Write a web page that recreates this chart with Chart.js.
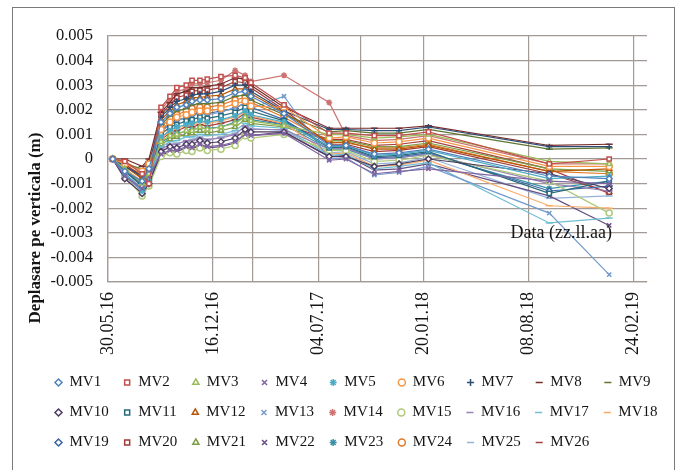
<!DOCTYPE html>
<html>
<head>
<meta charset="utf-8">
<script src="https://cdn.jsdelivr.net/npm/chart.js@4.4.1/dist/chart.umd.min.js"></script>
<style>
  html, body { margin: 0; padding: 0; background: #fff; }
  #wrap { position: relative; width: 680px; height: 470px; overflow: hidden; }
  #frame { position: absolute; left: 12px; top: 7px; width: 661px; height: 490px; border: 1.5px solid #7a7a7a; pointer-events: none; }
</style>
</head>
<body>
<div id="wrap">
  <canvas id="chart" width="680" height="470"></canvas>
  <div id="frame"></div>
</div>
<script>
// measurement dates (x) and vertical displacement per benchmark, in m
const measureDates = [
  "2016-06-08", "2016-07-01", "2016-08-03", "2016-08-16", "2016-09-08", "2016-09-25",
  "2016-10-08", "2016-10-26", "2016-11-06", "2016-11-21", "2016-12-05", "2016-12-31",
  "2017-01-27", "2017-02-15", "2017-02-26", "2017-04-30", "2017-07-25", "2017-08-26",
  "2017-10-19", "2017-12-05", "2018-01-30", "2018-09-17", "2019-01-09",
];

const MV1 = [0, -0.0005, -0.0009, -0.0004, 0.0015, 0.00185, 0.0021, 0.0022, 0.00235, 0.0024, 0.0024, 0.00245, 0.0027, 0.00275, 0.00255, 0.00185, 0.00055, 0.00055, 0.0002, 0.00025, 0.0004, -0.0007, -0.0008];
const MV2 = [0, -0.0001, -0.0006, -0.001, 0.0021, 0.00255, 0.0029, 0.003, 0.0032, 0.0032, 0.00325, 0.00335, 0.0034, 0.0033, 0.0031, 0.0022, 0.00105, 0.00105, 0.00095, 0.00095, 0.0011, -0.0002, 0];
const MV3 = [0, -0.0004, -0.001, -0.0006, 0.0007, 0.00095, 0.001, 0.00115, 0.00115, 0.0013, 0.0012, 0.0013, 0.00145, 0.0017, 0.00155, 0.00135, 0.001, 0.001, 0.00085, 0.0009, 0.001, -0.0001, -0.0002];
const MV4 = [0, -0.0007, -0.0012, -0.0007, 0.0002, 0.00035, 0.00035, 0.0005, 0.00045, 0.0006, 0.0005, 0.00055, 0.0007, 0.001, 0.00095, 0.00105, -0.00005, 0, -0.0006, -0.0005, -0.0004, -0.0009, -0.001];
const MV5 = [0, -0.0006, -0.0013, -0.0009, 0.0009, 0.00115, 0.0013, 0.0014, 0.00145, 0.00155, 0.0015, 0.0016, 0.00175, 0.00195, 0.0018, 0.0015, 0.0005, 0.00055, 0.00015, 0.0002, 0.00035, -0.0008, -0.0007];
const MV6 = [0, -0.0002, -0.0005, -0.0002, 0.0012, 0.0015, 0.0017, 0.0018, 0.0019, 0.00195, 0.00195, 0.00205, 0.00225, 0.00235, 0.00215, 0.0021, 0.00085, 0.0009, 0.00065, 0.0007, 0.00085, -0.0003, -0.0003];
const MV7 = [0, -0.0003, -0.0007, -0.0003, 0.0017, 0.0021, 0.00235, 0.00245, 0.0026, 0.00265, 0.00265, 0.00275, 0.003, 0.003, 0.00275, 0.00195, 0.0012, 0.0012, 0.00115, 0.00115, 0.0013, 0.0005, 0.0005];
const MV8 = [0, 0, -0.0003, 0, 0.0019, 0.0023, 0.00265, 0.00275, 0.0029, 0.0029, 0.00295, 0.00305, 0.0033, 0.00325, 0.003, 0.0021, 0.00125, 0.00125, 0.00125, 0.00125, 0.00135, 0.00055, 0.0006];
const MV9 = [0, -0.0002, -0.0004, -0.0001, 0.0014, 0.00175, 0.00195, 0.00205, 0.0022, 0.00225, 0.00225, 0.0023, 0.00255, 0.0026, 0.0024, 0.0018, 0.0011, 0.00115, 0.00105, 0.00105, 0.0012, 0.0004, 0.00045];
const MV10 = [0, -0.0008, -0.0014, -0.001, 0.0003, 0.0005, 0.00045, 0.0006, 0.0006, 0.00075, 0.00065, 0.0007, 0.00085, 0.0012, 0.0011, 0.0011, 0.0001, 0.0001, -0.0003, -0.0002, 0, -0.0006, -0.0012];
const MV11 = [0, -0.0005, -0.0011, -0.0008, 0.001, 0.0013, 0.0014, 0.00155, 0.0016, 0.0017, 0.00165, 0.00175, 0.0019, 0.0021, 0.00195, 0.00155, 0.00045, 0.0005, 0.0001, 0.00015, 0.0003, -0.0014, -0.0009];
const MV12 = [0, -0.0003, -0.0008, -0.0005, 0.0016, 0.00195, 0.0022, 0.00235, 0.0025, 0.0025, 0.00255, 0.0026, 0.00285, 0.00285, 0.00265, 0.0019, 0.00065, 0.0007, 0.0004, 0.0004, 0.00055, -0.0005, -0.0004];
const MV13 = [0, -0.0006, -0.0012, -0.0006, 0.0011, 0.0014, 0.00155, 0.0017, 0.00175, 0.00185, 0.0018, 0.0019, 0.0021, 0.00225, 0.00205, 0.00255, 0, 0.00005, -0.00065, -0.00055, -0.0003, -0.0022, -0.0047];
const MV14 = [0, -0.0001, -0.0005, -0.0003, 0.002, 0.00245, 0.00275, 0.00285, 0.00305, 0.00305, 0.0031, 0.0032, 0.0036, 0.0034, 0.00315, 0.0034, 0.0023, 0.00095, 0.00075, 0.0008, 0.00095, -0.0002, -0.0002];
const MV15 = [0, -0.0007, -0.0015, -0.0011, 0.0001, 0.00025, 0.0002, 0.00035, 0.0003, 0.00045, 0.00035, 0.0004, 0.00055, 0.00095, 0.00085, 0.001, 0.00035, 0.00035, -0.0001, -0.00005, 0.00015, -0.0009, -0.0022];
const MV16 = [0, -0.0007, -0.0013, -0.0009, 0.0004, 0.0006, 0.0006, 0.00075, 0.00075, 0.00085, 0.0008, 0.00085, 0.001, 0.00135, 0.0012, 0.0012, 0.0004, 0.00045, 0, 0.00005, 0.0002, -0.001, -0.0013];
const MV17 = [0, -0.0006, -0.0012, -0.0008, 0.0005, 0.0007, 0.00075, 0.0009, 0.0009, 0.001, 0.00095, 0.001, 0.00115, 0.00145, 0.00135, 0.00125, 0.00015, 0.0002, -0.0004, -0.0003, -0.00015, -0.0026, -0.0024];
const MV18 = [0, -0.0004, -0.0009, -0.0005, 0.00085, 0.0011, 0.00125, 0.00135, 0.0014, 0.0015, 0.00145, 0.00155, 0.0017, 0.0019, 0.00175, 0.00145, 0.0002, 0.00025, -0.0003, -0.00025, -0.00005, -0.0019, -0.002];
const MV19 = [0, -0.0005, -0.001, -0.0007, 0.00115, 0.00145, 0.0016, 0.00165, 0.0018, 0.0019, 0.00185, 0.00195, 0.00205, 0.0023, 0.0021, 0.0016, 0.0005, 0.00045, 0.00005, 0.0001, 0.00025, -0.0013, -0.0011];
const MV20 = [0, -0.0002, -0.0007, -0.001, 0.0018, 0.0022, 0.0025, 0.0026, 0.00275, 0.0028, 0.0028, 0.0029, 0.00315, 0.0031, 0.0029, 0.002, 0.0006, 0.0006, 0.0003, 0.00035, 0.0005, -0.0006, -0.00135];
const MV21 = [0, -0.0004, -0.0011, -0.0006, 0.0006, 0.0008, 0.0009, 0.001, 0.00105, 0.00115, 0.00105, 0.00115, 0.0013, 0.0016, 0.00145, 0.0013, 0.00075, 0.00075, 0.0005, 0.0005, 0.00065, -0.0004, -0.0005];
const MV22 = [0, -0.0008, -0.0014, -0.0009, 0.00015, 0.0003, 0.0003, 0.00045, 0.0004, 0.00055, 0.00045, 0.0005, 0.00065, 0.00105, 0.00095, 0.0011, 0.0001, 0.00015, -0.00045, -0.0004, -0.0002, -0.0015, -0.0027];
const MV23 = [0, -0.0005, -0.001, -0.0005, 0.00065, 0.0009, 0.00105, 0.0011, 0.0012, 0.00125, 0.00125, 0.0013, 0.0015, 0.00175, 0.0016, 0.0014, 0.0004, 0.0004, 0, 0.00005, 0.0002, -0.0012, -0.0009];
const MV24 = [0, -0.0003, -0.0006, -0.0004, 0.0013, 0.00165, 0.0018, 0.00195, 0.00205, 0.0021, 0.0021, 0.0022, 0.0024, 0.0025, 0.0023, 0.0017, 0.0007, 0.00065, 0.00045, 0.00045, 0.0006, -0.0005, -0.0006];
const MV25 = [0, -0.0007, -0.0013, -0.0008, 0.00045, 0.00055, 0.00065, 0.0007, 0.0008, 0.0009, 0.00075, 0.0009, 0.00105, 0.0013, 0.00125, 0.00115, 0.00025, 0.0003, -0.0002, -0.00015, 0.00005, -0.0016, -0.0015];
const MV26 = [0, -0.0002, -0.0008, -0.0003, 0.0008, 0.00105, 0.00115, 0.0013, 0.0013, 0.0014, 0.00135, 0.00145, 0.0016, 0.00185, 0.0017, 0.0014, 0.0008, 0.0008, 0.00055, 0.0006, 0.00075, -0.0004, -0.0014];

const seriesNames = [
  "MV1", "MV2", "MV3", "MV4", "MV5", "MV6", "MV7", "MV8", "MV9",
  "MV10", "MV11", "MV12", "MV13", "MV14", "MV15", "MV16", "MV17", "MV18",
  "MV19", "MV20", "MV21", "MV22", "MV23", "MV24", "MV25", "MV26",
];
const seriesValues = [
  MV1, MV2, MV3, MV4, MV5, MV6, MV7, MV8, MV9, MV10, MV11, MV12, MV13,
  MV14, MV15, MV16, MV17, MV18, MV19, MV20, MV21, MV22, MV23, MV24, MV25, MV26,
];

// axis
const xStart = "30.05.16";
const xEnd = "22.03.19";
const xTickLabels = ["30.05.16", "16.12.16", "04.07.17", "20.01.18", "08.08.18", "24.02.19"];
const xExtraGrid = ["01.03.17", "22.09.17"];
const yTicks = [-0.005, -0.004, -0.003, -0.002, -0.001, 0, 0.001, 0.002, 0.003, 0.004, 0.005];

const COLORS = [
  "#4f81bd", "#c0504d", "#9bbb59", "#8064a2", "#4bacc6", "#f79646", "#2c4d75", "#772c2a", "#5f7530",
  "#4d3b62", "#276a7c", "#b65708", "#729aca", "#cd7371", "#afc97a", "#9983b5", "#6fbdd1", "#f9ab6b",
  "#3a65a0", "#9e3a37", "#7d9c46", "#664f83", "#3791a8", "#e07a2a", "#95b3d7", "#a4403d",
];
const MARKERS = [
  "rectRot", "rect", "triangle", "crossRot", "star", "circle", "cross", "line", "line",
  "rectRot", "rect", "triangle", "crossRot", "star", "circle", "line", "line", "line",
  "rectRot", "rect", "triangle", "crossRot", "star", "circle", "line", "line",
];

const SERIF = "'Liberation Serif', 'Times New Roman', serif";
const GRID = "#a39a95";
const INK = "#141414";

function dayOf(str) {
  let y, m, d;
  if (str.includes("-")) {
    [y, m, d] = str.split("-").map(Number);
  } else {
    [d, m, y] = str.split(".").map(Number);
    y += 2000;
  }
  const base = Date.UTC(2016, 4, 30);
  return Math.round((Date.UTC(y, m - 1, d) - base) / 86400000);
}

const xDays = measureDates.map(dayOf);

const datasets = seriesNames.map((name, i) => ({
  label: name,
  data: seriesValues[i].map((v, j) => ({ x: xDays[j], y: v })),
  borderColor: COLORS[i],
  backgroundColor: COLORS[i],
  borderWidth: 1.2,
  pointStyle: MARKERS[i],
  pointRadius: MARKERS[i] === "line" ? 3.5 : 3,
  pointBorderWidth: 1.5,
  pointBorderColor: COLORS[i],
  pointBackgroundColor: "#ffffff",
  tension: 0,
}));

const textPlugin = {
  id: "extraText",
  afterDraw(chart) {
    const { ctx, chartArea, scales } = chart;
    ctx.save();
    ctx.fillStyle = INK;
    ctx.font = `bold 17px ${SERIF}`;
    ctx.textAlign = "center";
    ctx.textBaseline = "middle";
    ctx.translate(36, 228);
    ctx.rotate(-Math.PI / 2);
    ctx.fillText("Deplasare pe verticala (m)", 0, 0);
    ctx.restore();

    ctx.save();
    ctx.fillStyle = INK;
    ctx.font = `18px ${SERIF}`;
    ctx.textAlign = "right";
    ctx.textBaseline = "middle";
    ctx.fillText("Data (zz.ll.aa)", chartArea.right - 35, scales.y.getPixelForValue(-0.003));
    ctx.restore();
  },
};

new Chart(document.getElementById("chart"), {
  type: "line",
  data: { datasets },
  plugins: [textPlugin],
  options: {
    responsive: false,
    animation: false,
    layout: { padding: { left: 40, right: 0, top: 36, bottom: 10 } },
    plugins: {
      tooltip: { enabled: false },
      legend: {
        position: "bottom",
        align: "start",
        labels: {
          usePointStyle: true,
          boxWidth: 7,
          boxHeight: 5,
          padding: 15,
          color: INK,
          font: { family: SERIF, size: 15 },
          generateLabels(chart) {
            const items = Chart.defaults.plugins.legend.labels.generateLabels(chart);
            items.forEach((it) => {
              if (it.text.length === 3) it.text += "  ";
              it.fillStyle = "#ffffff";
            });
            return items;
          },
        },
      },
    },
    scales: {
      x: {
        type: "linear",
        min: dayOf(xStart),
        max: dayOf(xEnd),
        afterBuildTicks(scale) {
          scale.ticks = xTickLabels.concat(xExtraGrid)
            .map((s) => ({ value: dayOf(s) }))
            .sort((a, b) => a.value - b.value);
        },
        afterFit(scale) {
          scale.height = 78;
        },
        grid: { color: GRID, lineWidth: 1.2, drawTicks: false },
        border: { color: GRID, width: 1.2 },
        ticks: {
          autoSkip: false,
          minRotation: 90,
          maxRotation: 90,
          padding: 10,
          color: INK,
          font: { family: SERIF, size: 18 },
          callback(value) {
            const idx = xTickLabels.findIndex((s) => dayOf(s) === value);
            return idx >= 0 ? xTickLabels[idx] : "";
          },
        },
      },
      y: {
        min: yTicks[0],
        max: yTicks[yTicks.length - 1],
        afterBuildTicks(scale) {
          scale.ticks = yTicks.map((v) => ({ value: v }));
        },
        afterFit(scale) {
          scale.width = 68;
        },
        grid: { color: GRID, lineWidth: 1.3, drawTicks: false },
        border: { color: GRID, width: 1.3 },
        ticks: {
          padding: 15,
          color: INK,
          font: { family: SERIF, size: 16.5 },
          callback(value) {
            return value === 0 ? "0" : value.toFixed(3);
          },
        },
      },
      yRight: {
        type: "linear",
        position: "right",
        display: true,
        grid: { display: false },
        border: { display: false },
        ticks: { display: false },
        afterFit(scale) {
          scale.width = 33;
        },
      },
    },
  },
});
</script>
</body>
</html>
